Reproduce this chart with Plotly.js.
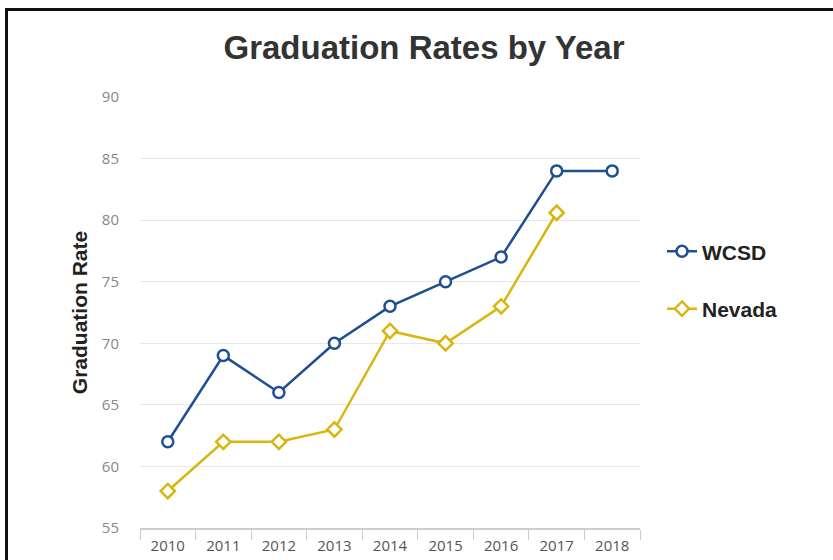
<!DOCTYPE html>
<html><head><meta charset="utf-8">
<script src="https://cdn.plot.ly/plotly-3.0.1.min.js"></script>
<style>
html,body{margin:0;padding:0;background:#fff;}
#wrap{position:relative;width:833px;height:560px;overflow:hidden;}
#chart{position:absolute;left:0;top:0;width:833px;height:560px;}
#frame{position:absolute;left:5px;top:8px;width:840px;height:560px;border-top:3px solid #111;border-left:3px solid #111;pointer-events:none;}
</style></head>
<body><div id="wrap"><div id="chart"></div><div id="frame"></div></div>
<script>
const years = ['2010','2011','2012','2013','2014','2015','2016','2017','2018'];
const wcsd = [62, 69, 66, 70, 73, 75, 77, 84, 84];
const nevada = [58, 62, 62, 63, 71, 70, 73, 80.6, null];
const yTicks = [55, 60, 65, 70, 75, 80, 85, 90];

const traces = [
  {x: years, y: wcsd, name: 'WCSD', legendgroup: 'a', type: 'scatter', mode: 'lines+markers',
   line: {color: '#1d4f91', width: 2.5},
   marker: {symbol: 'circle', size: 11, color: '#ffffff', line: {color: '#1d4f91', width: 2.5}}},
  {x: years, y: nevada, name: 'Nevada', legendgroup: 'b', type: 'scatter', mode: 'lines+markers',
   line: {color: '#d9b60f', width: 2.5},
   marker: {symbol: 'diamond', size: 11, color: '#ffffff', line: {color: '#d9b60f', width: 2.5}}}
];

const layout = {
  width: 833, height: 560,
  margin: {l: 140, r: 193, t: 97, b: 32},
  paper_bgcolor: '#ffffff', plot_bgcolor: '#ffffff',
  title: {text: '<b>Graduation Rates by Year</b>', x: 0.509, xref: 'container', xanchor: 'center', y: 0.915, yanchor: 'middle',
          font: {family: 'Liberation Sans, Arial', size: 33, color: '#333333'}},
  xaxis: {type: 'category', range: [-0.5, 8.5], showgrid: false, showline: true, linecolor: '#cccccc', linewidth: 1.5,
          ticks: 'outside', ticklen: 10, tickcolor: '#cccccc', tickson: 'boundaries', ticklabelstandoff: 3,
          tickfont: {family: 'Open Sans, DejaVu Sans', size: 15, color: '#555555'}, zeroline: false, fixedrange: true},
  yaxis: {range: [55, 90], tickvals: yTicks, ticktext: yTicks.map(String), showgrid: true, gridcolor: '#e6e6e6', gridwidth: 1,
          zeroline: false, showline: false, ticks: '', ticklabelstandoff: 20,
          tickfont: {family: 'Open Sans, DejaVu Sans', size: 15, color: '#888888'},
          title: {text: '<b>Graduation Rate</b>', standoff: 8, font: {family: 'Liberation Sans, Arial', size: 21, color: '#222222'}}},
  legend: {x: 1.044, y: 0.575, xanchor: 'left', yanchor: 'middle', traceorder: 'grouped', tracegroupgap: 27, itemwidth: 30,
           font: {family: 'Liberation Sans, Arial', size: 21, color: '#222222', weight: 'bold'}, bgcolor: 'rgba(0,0,0,0)'},
  showlegend: true
};
Plotly.newPlot('chart', traces, layout, {displayModeBar: false, staticPlot: true});
</script></body></html>
